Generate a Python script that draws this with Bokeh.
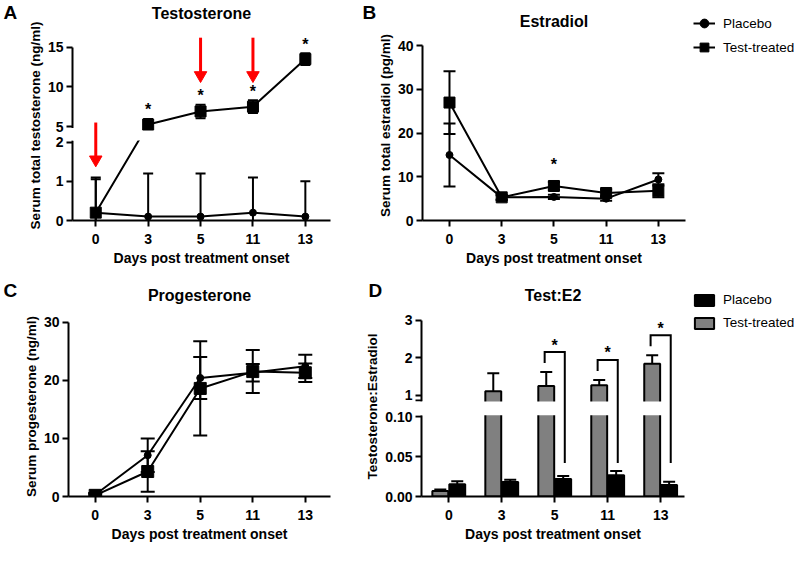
from bokeh.plotting import figure
from bokeh.models import (ColumnDataSource, FixedTicker, CustomJSTransform, BoxAnnotation,
                          Legend, LegendItem, Range1d)
from bokeh.transform import transform, dodge
from bokeh.layouts import column, row
from bokeh.embed import file_html
from bokeh.resources import INLINE
from bokeh.core.properties import value

# ---------------- data ----------------
days = ["0", "3", "5", "11", "13"]

# A: testosterone (ng/ml)
testo_placebo = [0.2, 0.1, 0.1, 0.2, 0.1]
testo_placebo_err = [0.9, 1.1, 1.1, 0.9, 0.9]
testo_treated = [0.2, 5.25, 6.9, 7.5, 13.5]
testo_treated_err = [0.85, 0.7, 0.85, 0.8, 0.75]
testo_sig = ["", "*", "*", "*", "*"]
testo_ticks = [0, 1, 2, 5, 10, 15]
arrow_days = ["0", "5", "11"]

# B: estradiol (pg/ml)
e2_placebo = [15.0, 5.3, 5.4, 5.0, 9.4]
e2_placebo_err = [7.2, 0.5, 0.5, 0.5, 1.4]
e2_treated = [27.0, 5.3, 7.9, 6.3, 6.8]
e2_treated_err = [7.2, 0.6, 0.9, 0.8, 1.5]
e2_sig = ["", "", "*", "", ""]
e2_ticks = [0, 10, 20, 30, 40]

# C: progesterone (ng/ml)
p4_placebo = [0.3, 7.1, 20.4, 21.3, 22.4]
p4_placebo_err = [0.3, 2.9, 3.6, 1.5, 2.0]
p4_treated = [0.2, 4.3, 18.6, 21.5, 21.3]
p4_treated_err = [0.2, 3.5, 8.1, 3.7, 1.6]
p4_ticks = [0, 10, 20, 30]

# D: testosterone : estradiol
ratio_placebo = [0.0152, 0.018, 0.022, 0.0265, 0.0144]
ratio_placebo_err = [0.004, 0.003, 0.0036, 0.0055, 0.004]
ratio_treated = [0.0069, 1.11, 1.25, 1.27, 1.84]
ratio_treated_err = [0.002, 0.48, 0.37, 0.14, 0.23]
ratio_sig = ["", "", "*", "*", "*"]
ratio_ticks = [0, 0.05, 0.10, 1, 2, 3]
ratio_tick_labels = ["0.00", "0.05", "0.10", "1", "2", "3"]

FONT = "Liberation Sans"
xidx = list(range(len(days)))


# ---------------- helpers ----------------
def piecewise(thr, k1, vb, yb, k2):
    """broken axis: lower segment y*k1, upper segment vb + (y-yb)*k2"""
    func = "return (x <= thr) ? x*k1 : vb + (x - yb)*k2;"
    v_func = """
    const out = new Float64Array(xs.length);
    for (let i = 0; i < xs.length; i++) {
        const y = xs[i];
        out[i] = (y <= thr) ? y*k1 : vb + (y - yb)*k2;
    }
    return out;
    """
    t = CustomJSTransform(args=dict(thr=thr, k1=k1, vb=vb, yb=yb, k2=k2),
                          func=func, v_func=v_func)

    def py(y):
        return y * k1 if y <= thr else vb + (y - yb) * k2
    return t, py


def style_axis(ax, label, size, lab_standoff=3, ax_standoff=2):
    ax.axis_label = label
    ax.axis_label_text_font = FONT
    ax.axis_label_text_font_style = "bold"
    ax.axis_label_text_font_size = size
    ax.axis_label_text_color = "black"
    ax.axis_label_standoff = ax_standoff
    ax.axis_line_width = 2
    ax.axis_line_color = "black"
    ax.major_tick_line_width = 2
    ax.major_tick_line_color = "black"
    ax.major_tick_out = 6
    ax.major_tick_in = 0
    ax.minor_tick_line_color = None
    ax.major_label_text_font = FONT
    ax.major_label_text_font_style = "bold"
    ax.major_label_text_font_size = "14px"
    ax.major_label_text_color = "black"
    ax.major_label_standoff = lab_standoff


def make_fig(fw, fh, xr, yr, ml, mr, mt, mb):
    p = figure(frame_width=fw, frame_height=fh, x_range=Range1d(*xr), y_range=Range1d(*yr),
               min_border_left=ml, min_border_right=mr, min_border_top=mt, min_border_bottom=mb,
               toolbar_location=None, output_backend="svg")
    p.xgrid.visible = False
    p.ygrid.visible = False
    p.outline_line_color = None
    p.background_fill_color = "white"
    p.border_fill_color = "white"
    xa = p.xaxis[0]
    xa.ticker = FixedTicker(ticks=xidx)
    xa.major_label_overrides = {i: d for i, d in enumerate(days)}
    style_axis(xa, "Days post treatment onset", "14px", 7, 3)
    return p


def src(mean, err):
    return ColumnDataSource(dict(x=xidx, y=mean,
                                 lo=[m - e for m, e in zip(mean, err)],
                                 hi=[m + e for m, e in zip(mean, err)]))


def yf(f, tr):
    return transform(f, tr) if tr is not None else f


def draw_line(p, s, tr):
    return p.line("x", yf("y", tr), source=s, line_width=2, line_color="black")


def draw_err(p, s, tr, cap, level="glyph"):
    p.segment(x0="x", y0=yf("lo", tr), x1="x", y1=yf("hi", tr), source=s,
              line_width=2, line_color="black", level=level)
    for f in ("lo", "hi"):
        p.scatter("x", yf(f, tr), source=s, marker="dash", size=cap, line_width=2,
                  line_color="black", level=level)


def draw_markers(p, s, tr, marker, size, level="glyph"):
    return p.scatter("x", yf("y", tr), source=s, marker=marker, size=size,
                     fill_color="black", line_color="black", level=level)


def frame_text(p, text, size, dx, dy, align="center"):
    """text placed relative to the top-left corner of the frame (pixels)"""
    xr, yr = p.x_range, p.y_range
    p.text(x=[xr.start], y=[yr.end], text=[text], x_offset=dx, y_offset=dy,
           text_font=value(FONT), text_font_style="bold", text_font_size=size,
           text_align=align, text_baseline="middle", text_color="black", level="overlay")


def stars(p, xs, ys, texts, tr, yoff):
    s = ColumnDataSource(dict(x=xs, y=ys, t=texts))
    p.text(x="x", y=yf("y", tr), text="t", source=s, text_font=value(FONT),
           text_font_style="bold", text_font_size="16px", text_align="center",
           text_baseline="middle", text_color="black", y_offset=yoff, level="overlay")


def axis_gap(p, fw, y0, y1):
    """white patch hiding the y axis line between the two axis segments"""
    xr = p.x_range
    pxu = (xr.end - xr.start) / fw
    p.quad(left=[xr.start - 8 * pxu], right=[xr.start + 2 * pxu], bottom=[y0], top=[y1],
           fill_color="white", line_color=None, level="overlay")


def gap_band(p, fw, y0, y1):
    p.add_layout(BoxAnnotation(left=0, right=fw, left_units="screen", right_units="screen",
                               bottom=y0, top=y1, fill_color="white", fill_alpha=1.0,
                               line_color=None))


# ---------------- Panel A ----------------
tA, vA = piecewise(3.5, 39.2, 94.0, 5.0, 7.93)
FWA, FHA = 258, 190
pA = make_fig(FWA, FHA, (-0.444, 4.48), (0, FHA), 72, 32, 30, 58)
ya = pA.yaxis[0]
tickA = [round(vA(t), 2) for t in testo_ticks]
ya.ticker = FixedTicker(ticks=tickA)
ya.major_label_overrides = {v: str(t) for v, t in zip(tickA, testo_ticks)}
ya.bounds = (0, tickA[-1])
style_axis(ya, "Serum total testosterone (ng/ml)", "13.5px")

sAp = src(testo_placebo, testo_placebo_err)
sAt = src(testo_treated, testo_treated_err)
draw_line(pA, sAp, tA)
draw_line(pA, sAt, tA)
draw_err(pA, sAp, tA, 10)
draw_err(pA, sAt, tA, 10)
gap_band(pA, FWA, vA(2) + 1.5, vA(5) - 1.5)
axis_gap(pA, FWA, vA(2) + 1.5, vA(5) - 1.5)
draw_markers(pA, sAp, tA, "circle", 7, "overlay")
draw_markers(pA, sAt, tA, "square", 11, "overlay")
stars(pA, xidx, list(sAt.data["hi"]), testo_sig, tA, -9)
ax_i = [days.index(d) for d in arrow_days]
ay0 = [vA(5.5) if d == "0" else vA(16.2) for d in arrow_days]
ay1 = [vA(1.4) if d == "0" else vA(10.7) for d in arrow_days]
pA.segment(x0=ax_i, y0=ay0, x1=ax_i, y1=[y + 8 for y in ay1], line_color="red",
           line_width=3, level="overlay")
pA.scatter(ax_i, [y + 6 for y in ay1], marker="inverted_triangle", size=12.5,
           fill_color="red", line_color="red", level="overlay")
frame_text(pA, "Testosterone", "16px", FWA / 2, -17.5)
frame_text(pA, "A", "19px", -69, -18.5, "left")

# ---------------- Panel B ----------------
FWB, FHB = 263, 190
pB = make_fig(FWB, FHB, (-0.517, 4.52), (0, 40 * 190 / 174.7), 60, 115, 30, 58)
yb = pB.yaxis[0]
yb.ticker = FixedTicker(ticks=e2_ticks)
yb.bounds = (0, 40)
style_axis(yb, "Serum total estradiol (pg/ml)", "13.5px")
sBp = src(e2_placebo, e2_placebo_err)
sBt = src(e2_treated, e2_treated_err)
lBp = draw_line(pB, sBp, None)
draw_err(pB, sBp, None, 12)
mBp = draw_markers(pB, sBp, None, "circle", 7)
lBt = draw_line(pB, sBt, None)
draw_err(pB, sBt, None, 12)
mBt = draw_markers(pB, sBt, None, "square", 11)
stars(pB, xidx, list(sBt.data["hi"]), e2_sig, None, -18)
legB = Legend(items=[LegendItem(label="Placebo", renderers=[lBp, mBp]),
                     LegendItem(label="Test-treated", renderers=[lBt, mBt])],
              location=(8, 162), glyph_width=22, glyph_height=22, label_height=22,
              label_standoff=8, spacing=2, padding=0, margin=0,
              label_text_font=FONT, label_text_font_size="13.5px",
              label_text_color="black", border_line_color=None, background_fill_alpha=0)
pB.add_layout(legB, "right")
frame_text(pB, "Estradiol", "16px", FWB / 2, -9.5)
frame_text(pB, "B", "19px", -60, -18.5, "left")

# ---------------- Panel C ----------------
FWC, FHC = 262, 180
pC = make_fig(FWC, FHC, (-0.508, 4.48), (0, 180 / 5.81), 68, 32, 38, 67)
yc = pC.yaxis[0]
yc.ticker = FixedTicker(ticks=p4_ticks)
yc.bounds = (0, 30)
style_axis(yc, "Serum progesterone (ng/ml)", "13.5px")
sCp = src(p4_placebo, p4_placebo_err)
sCt = src(p4_treated, p4_treated_err)
draw_line(pC, sCp, None)
draw_err(pC, sCp, None, 14)
draw_markers(pC, sCp, None, "circle", 7)
draw_line(pC, sCt, None)
draw_err(pC, sCt, None, 14)
draw_markers(pC, sCt, None, "square", 12)
frame_text(pC, "Progesterone", "16px", FWC / 2, -21)
frame_text(pC, "C", "19px", -65, -26, "left")

# ---------------- Panel D ----------------
tD, vD = piecewise(0.5, 800.0, 101.2, 1.0, 37.5)
FWD, FHD = 263, 180
pD = make_fig(FWD, FHD, (-0.515, 4.45), (0, FHD), 53, 122, 38, 67)
yd = pD.yaxis[0]
tickD = [round(vD(t), 2) for t in ratio_ticks]
brk = 96.2
yd.ticker = FixedTicker(ticks=tickD + [brk])
ovr = {v: lab for v, lab in zip(tickD, ratio_tick_labels)}
ovr[brk] = ""
yd.major_label_overrides = ovr
yd.bounds = (0, tickD[-1])
style_axis(yd, "Testosterone:Estradiol", "13.5px")

sDt = ColumnDataSource(dict(x=xidx, y=ratio_treated,
                            hi=[m + e for m, e in zip(ratio_treated, ratio_treated_err)]))
sDp = ColumnDataSource(dict(x=xidx, y=ratio_placebo,
                            hi=[m + e for m, e in zip(ratio_placebo, ratio_placebo_err)]))
W, OFF = 0.30, 0.16
bars = {}
for s, off, col in ((sDt, -OFF, "#808080"), (sDp, OFF, "black")):
    bars[col] = pD.vbar(x=dodge("x", off), top=transform("y", tD), bottom=0, width=W, source=s,
                        fill_color=col, line_color="black", line_width=2)
    pD.segment(x0=dodge("x", off), y0=transform("y", tD), x1=dodge("x", off),
               y1=transform("hi", tD), source=s, line_width=2, line_color="black")
    pD.scatter(dodge("x", off), transform("hi", tD), source=s, marker="dash", size=12,
               line_width=2, line_color="black")
gap_band(pD, FWD, vD(0.10) + 1.2, brk - 1.2)
axis_gap(pD, FWD, vD(0.10) + 1.2, brk - 1.2)
br_x, br_y, st_x, st_y, st_t = [], [], [], [], []
for i, sg in enumerate(ratio_sig):
    if sg:
        top_t = vD(ratio_treated[i] + ratio_treated_err[i])
        ytop = top_t + 20
        br_x.append([i - 0.19, i - 0.19, i + 0.19, i + 0.19])
        br_y.append([top_t + 9, ytop, ytop, vD(0.042)])
        st_x.append(i)
        st_y.append(ytop)
        st_t.append(sg)
pD.multi_line(br_x, br_y, line_width=2, line_color="black", line_join="miter", level="overlay")
stars(pD, st_x, st_y, st_t, None, -7)
legD = Legend(items=[LegendItem(label="Placebo", renderers=[bars["black"]]),
                     LegendItem(label="Test-treated", renderers=[bars["#808080"]])],
              location=(8, 166), glyph_width=24, glyph_height=14, label_height=14,
              label_standoff=7, spacing=8, padding=0, margin=0,
              label_text_font=FONT, label_text_font_size="13.5px",
              label_text_color="black", border_line_color=None, background_fill_alpha=0)
pD.add_layout(legD, "right")
frame_text(pD, "Test:E2", "16px", FWD / 2, -21)
frame_text(pD, "D", "19px", -53, -26, "left")

layout = column(row(pA, pB), row(pC, pD))
open("out.html", "w").write(file_html(layout, INLINE))
